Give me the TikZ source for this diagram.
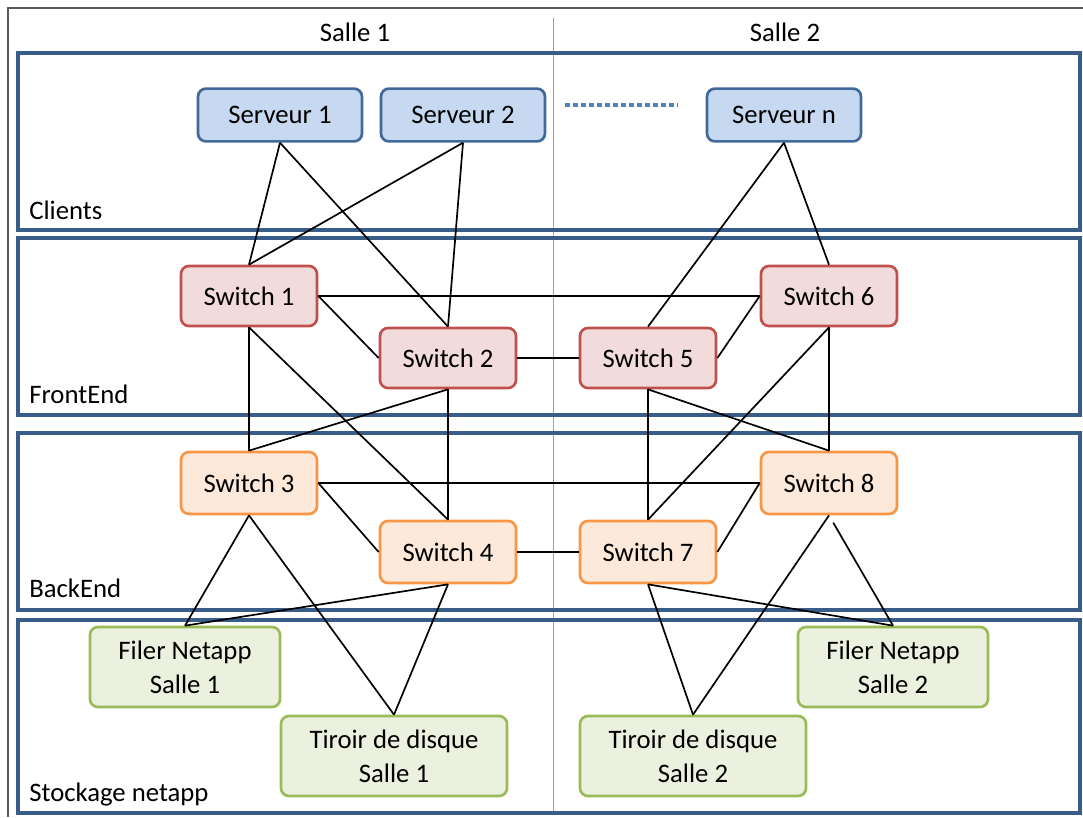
\documentclass[tikz,border=0pt]{standalone}
\usepackage{fontspec}
\setmainfont{Carlito}
\definecolor{bandblue}{HTML}{385D8A}
\definecolor{roomline}{HTML}{7FA3D0}
\definecolor{srvfill}{HTML}{C6D9F1}
\definecolor{srvdraw}{HTML}{41699C}
\definecolor{fefill}{HTML}{F2DCDB}
\definecolor{fedraw}{HTML}{C0504D}
\definecolor{befill}{HTML}{FDE9D9}
\definecolor{bedraw}{HTML}{F79646}
\definecolor{stfill}{HTML}{EBF1DE}
\definecolor{stdraw}{HTML}{9BBB59}
\definecolor{dotblue}{HTML}{4F81BD}

\begin{document}
\begin{tikzpicture}[
  x=0.025cm, y=-0.025cm,
  font=\fontsize{19}{24}\selectfont,
  band box/.style={draw=bandblue, line width=2.3pt},
  band label/.style={anchor=west, inner sep=0pt},
  base box/.style={rounded corners=0.2cm, line width=1.9pt, align=center, inner sep=2pt},
  server box/.style={base box, draw=srvdraw, fill=srvfill, minimum width=4.1cm, minimum height=1.32cm},
  front box/.style={base box, draw=fedraw, fill=fefill, minimum width=3.4cm, minimum height=1.5cm},
  back box/.style={base box, draw=bedraw, fill=befill, minimum width=3.4cm, minimum height=1.55cm},
  store box/.style={base box, draw=stdraw, fill=stfill, minimum height=2cm},
  link/.style={draw=black, line width=1.2pt}
]
\useasboundingbox (0,0) rectangle (1083,817);
\draw[gray!70!black, line width=0.8pt] (1083,8) -- (8,8) -- (8,817);

% rooms
\draw[roomline, line width=0.6pt] (553,18) -- (553,815);
\node (salle1) at (355,32) {Salle 1};
\node (salle2) at (785,32) {Salle 2};

% bands
\draw[band box] (18,53) rectangle (1080,230);
\draw[band box] (18,238) rectangle (1080,415);
\draw[band box] (18,433) rectangle (1080,610);
\draw[band box] (18,620) rectangle (1080,813);
\node[band label] (clients) at (29,210) {Clients};
\node[band label] (frontend) at (29,394) {FrontEnd};
\node[band label] (backend) at (29,588) {BackEnd};
\node[band label] (stockage) at (29,795) {Stockage netapp};

% clients
\node[server box] (srv1) at (280,115) {Serveur 1};
\node[server box] (srv2) at (463,115) {Serveur 2};
\node[server box, minimum width=3.85cm] (srvn) at (784,115) {Serveur n};
\coordinate (dotA) at (565,105);
\coordinate (dotB) at (678,105);
\draw[dotblue, line width=3pt, dash pattern=on 3.5pt off 2.2pt] (dotA) -- (dotB);

% frontend
\node[front box] (sw1) at (249,296) {Switch 1};
\node[front box] (sw2) at (448,358) {Switch 2};
\node[front box] (sw5) at (648,358) {Switch 5};
\node[front box] (sw6) at (829,296) {Switch 6};

% backend
\node[back box] (sw3) at (249,483) {Switch 3};
\node[back box] (sw4) at (448,552) {Switch 4};
\node[back box] (sw7) at (648,552) {Switch 7};
\node[back box] (sw8) at (829,483) {Switch 8};

% storage
\node[store box, minimum width=4.75cm] (filer1) at (185,667) {Filer Netapp\\Salle 1};
\node[store box, minimum width=5.65cm] (tiroir1) at (394,756) {Tiroir de disque\\Salle 1};
\node[store box, minimum width=5.65cm] (tiroir2) at (693,756) {Tiroir de disque\\Salle 2};
\node[store box, minimum width=4.75cm] (filer2) at (893,667) {Filer Netapp\\Salle 2};

% links
\draw[link] (srv1.south) -- (sw1.north);
\draw[link] (srv1.south) -- (sw2.north);
\draw[link] (srv2.south) -- (sw1.north);
\draw[link] (srv2.south) -- (sw2.north);
\draw[link] (srvn.south) -- (sw5.north);
\draw[link] (srvn.south) -- (sw6.north);

\draw[link] (sw1.east) -- (sw6.west);
\draw[link] (sw1.east) -- (sw2.west);
\draw[link] (sw2.east) -- (sw5.west);
\draw[link] (sw5.east) -- (sw6.west);
\draw[link] (sw1.south) -- (sw3.north);
\draw[link] (sw1.south) -- (sw4.north);
\draw[link] (sw2.south) -- (sw3.north);
\draw[link] (sw2.south) -- (sw4.north);
\draw[link] (sw5.south) -- (sw7.north);
\draw[link] (sw5.south) -- (sw8.north);
\draw[link] (sw6.south) -- (sw7.north);
\draw[link] (sw6.south) -- (sw8.north);

\draw[link] (sw3.east) -- (sw8.west);
\draw[link] (sw3.east) -- (sw4.west);
\draw[link] (sw4.east) -- (sw7.west);
\draw[link] (sw7.east) -- (sw8.west);
\draw[link] (sw3.south) -- (filer1.north);
\draw[link] (sw3.south) -- (tiroir1.north);
\draw[link] (sw4.south) -- (filer1.north);
\draw[link] (sw4.south) -- (tiroir1.north);
\draw[link] (sw7.south) -- (tiroir2.north);
\draw[link] (sw7.south) -- (filer2.north);
\draw[link] (sw8.south) -- (tiroir2.north);
\draw[link, shorten <=6pt] (sw8.south) -- (filer2.north);
\end{tikzpicture}
\end{document}
